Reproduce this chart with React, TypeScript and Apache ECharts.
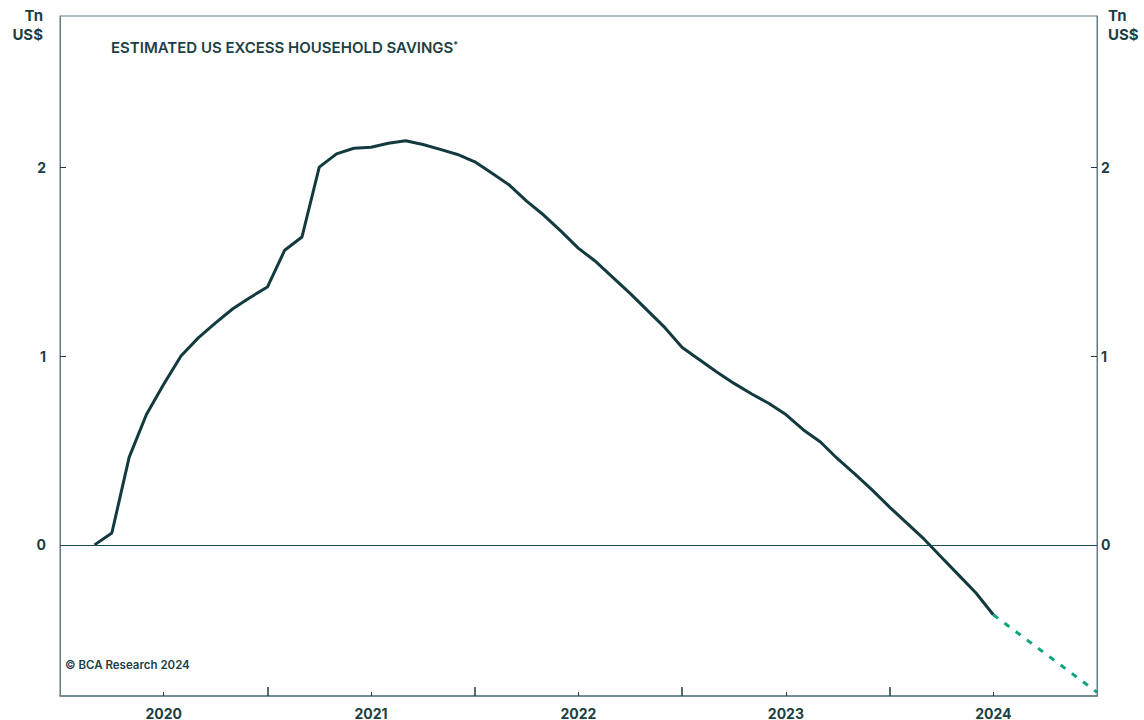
import React, { useEffect, useRef } from "react";
import * as echarts from "echarts";

const months = [
  "2020-03","2020-04","2020-05","2020-06","2020-07","2020-08","2020-09","2020-10","2020-11","2020-12",
  "2021-01","2021-02","2021-03","2021-04","2021-05","2021-06","2021-07","2021-08","2021-09","2021-10","2021-11","2021-12",
  "2022-01","2022-02","2022-03","2022-04","2022-05","2022-06","2022-07","2022-08","2022-09","2022-10","2022-11","2022-12",
  "2023-01","2023-02","2023-03","2023-04","2023-05","2023-06","2023-07","2023-08","2023-09","2023-10","2023-11","2023-12",
  "2024-01","2024-02","2024-03","2024-04","2024-05","2024-06","2024-07",
];
const savings = [
  0, 0.063, 0.463, 0.69, 0.85, 1.0, 1.096, 1.175, 1.25, 1.31,
  1.365, 1.56, 1.63, 2.0, 2.07, 2.1, 2.105, 2.126, 2.14, 2.12, 2.094, 2.067,
  2.028, 1.967, 1.905, 1.82, 1.745, 1.66, 1.57, 1.5, 1.415, 1.33, 1.24, 1.15,
  1.045, 0.98, 0.915, 0.855, 0.8, 0.75, 0.69, 0.61, 0.545, 0.455, 0.375, 0.29,
  0.2, 0.115, 0.03, -0.065, -0.16, -0.255, -0.37,
];
const forecastMonths = ["2024-07", "2025-01"];
const forecastValues = [-0.37, -0.78];

const yTicks = [0, 1, 2];
const yearLabels = [2020, 2021, 2022, 2023, 2024];
const yearBounds = [2021, 2022, 2023, 2024];

const toX = (s: string) => {
  const [y, m] = s.split("-").map(Number);
  return y + (m - 1) / 12;
};

const TEXT = "#1c3f45";
const FRAME = "#5f7e83";
const FONT = "Inter, 'Noto Sans', sans-serif";

export default function App() {
  const ref = useRef<HTMLDivElement>(null);
  useEffect(() => {
    if (!ref.current) return;
    const chart = echarts.init(ref.current, null, { renderer: "svg" });
    const mid = yearLabels.map((y) => y + 0.5);
    const yAxisBase = (pos: "left" | "right") => ({
      type: "value",
      position: pos,
      min: -0.8,
      max: 2.8,
      axisLine: { show: true, lineStyle: { color: FRAME, width: 1 } },
      axisTick: { show: true, inside: true, length: 6, customValues: yTicks, lineStyle: { color: TEXT } },
      axisLabel: {
        show: true,
        customValues: yTicks,
        margin: pos === "left" ? 14 : 4,
        color: TEXT,
        fontFamily: FONT,
        fontWeight: 700,
        fontSize: 14,
      },
      splitLine: { show: false },
    });
    chart.setOption({
      animation: false,
      grid: { left: 60, right: 47, top: 16, bottom: 23, show: true, borderColor: FRAME, borderWidth: 1 },
      xAxis: [
        {
          type: "value",
          position: "bottom",
          min: 2020,
          max: 2025,
          axisLine: { show: true, onZero: false, lineStyle: { color: FRAME, width: 1.5 } },
          axisTick: { show: true, inside: true, length: 4, customValues: mid, lineStyle: { color: TEXT } },
          axisLabel: {
            show: true,
            customValues: mid,
            formatter: (v: number) => String(Math.floor(v)),
            margin: 10,
            color: TEXT,
            fontFamily: FONT,
            fontWeight: 700,
            fontSize: 14,
          },
          splitLine: { show: false },
        },
        {
          type: "value",
          position: "bottom",
          min: 2020,
          max: 2025,
          axisLine: { show: false, onZero: false },
          axisTick: { show: true, inside: true, length: 9, customValues: yearBounds, lineStyle: { color: TEXT, width: 1.5 } },
          axisLabel: { show: false },
          splitLine: { show: false },
        },
      ],
      yAxis: [yAxisBase("left"), yAxisBase("right")],
      graphic: [
        { type: "text", right: 1101, top: 8, style: { text: "Tn", fill: TEXT, font: `700 15px ${FONT}`, textAlign: "right" } },
        { type: "text", right: 1101, top: 27, style: { text: "US$", fill: TEXT, font: `700 15px ${FONT}`, textAlign: "right" } },
        { type: "text", left: 1108, top: 8, style: { text: "Tn", fill: TEXT, font: `700 15px ${FONT}` } },
        { type: "text", left: 1108, top: 27, style: { text: "US$", fill: TEXT, font: `700 15px ${FONT}` } },
        {
          type: "text",
          left: 111,
          top: 40,
          style: {
            text: "ESTIMATED US EXCESS HOUSEHOLD SAVINGS{s|*}",
            fill: TEXT,
            font: `600 15px ${FONT}`,
            rich: {
              s: { fontSize: 9, fontWeight: 600, fill: TEXT, fontFamily: FONT, verticalAlign: "top", padding: [0, 0, 6, 0] },
            },
          },
        },
        { type: "text", left: 65, top: 659, style: { text: "© BCA Research 2024", fill: TEXT, font: `600 11.5px ${FONT}` } },
      ],
      series: [
        {
          type: "line",
          xAxisIndex: 0,
          yAxisIndex: 0,
          data: months.map((m, i) => [toX(m), savings[i]]),
          showSymbol: false,
          lineStyle: { color: "#123a3f", width: 3 },
          z: 3,
          markLine: {
            silent: true,
            symbol: "none",
            label: { show: false },
            lineStyle: { color: "#1d4a50", width: 1.2, type: "solid" },
            data: [{ yAxis: 0 }],
          },
        },
        {
          type: "line",
          xAxisIndex: 0,
          yAxisIndex: 0,
          data: forecastMonths.map((m, i) => [toX(m), forecastValues[i]]),
          showSymbol: false,
          lineStyle: { color: "#0aa57f", width: 3, type: [6, 8] },
          z: 3,
        },
      ],
    });
    return () => chart.dispose();
  }, []);
  return <div ref={ref} style={{ width: 1144, height: 720, position: "absolute", left: 0, top: 0 }} />;
}
